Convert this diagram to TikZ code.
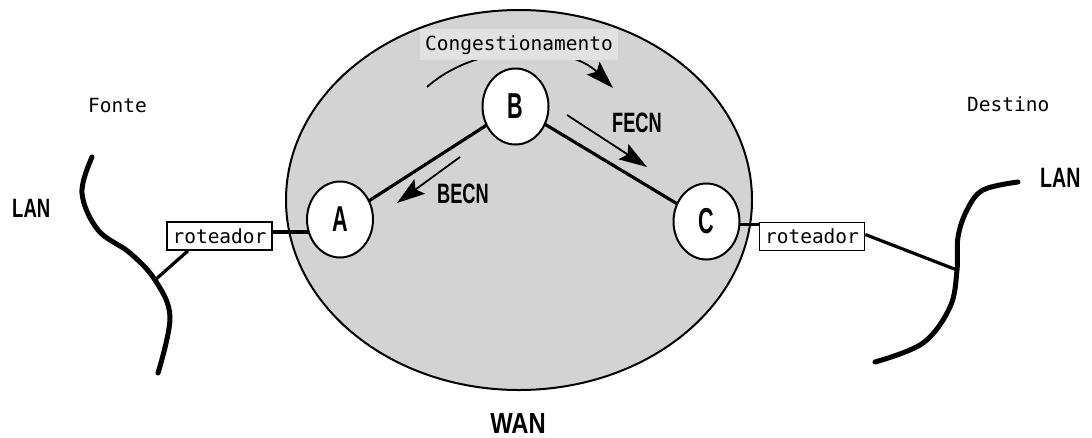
\documentclass[tikz,border=0pt]{standalone}
\usepackage{fontspec}
\setmainfont{Liberation Sans}
\newfontfamily\monofont{DejaVu Sans Mono}
\usetikzlibrary{arrows.meta,shapes.geometric,calc}
\definecolor{wangray}{RGB}{211,211,211}
\definecolor{labelgray}{RGB}{226,226,226}
\newcommand\condtxt[2]{\scalebox{#1}[1]{#2}}
\pgfdeclarelayer{back}
\pgfdeclarelayer{wires}
\pgfsetlayers{back,wires,main}
\begin{document}
\begin{tikzpicture}[x=1pt,y=-1pt,
  router/.style={draw,line width=1.5pt,fill=white,minimum width=105pt,minimum height=28pt,inner sep=0pt,font=\monofont\fontsize{19.5}{19.5}\selectfont},
  switchnode/.style={ellipse,draw,line width=2pt,fill=white,minimum width=66pt,minimum height=76pt,inner sep=0pt,font=\bfseries\fontsize{36}{36}\selectfont},
  monotext/.style={font=\monofont\fontsize{19.5}{19.5}\selectfont,inner sep=0pt},
  bigtext/.style={font=\bfseries\fontsize{28}{28}\selectfont,inner sep=0pt},
  link/.style={line width=3.2pt},
  lanwire/.style={line width=5pt,line cap=round},
  flow/.style={line width=1.8pt,-{Stealth[length=28pt,width=18pt,inset=5pt]}}
]
\useasboundingbox (0,0) rectangle (1092,437);

\begin{pgfonlayer}{back}
\node[ellipse,draw,fill=wangray,line width=2pt,minimum width=466pt,minimum height=380pt,inner sep=0pt] (wan) at (519,200) {};
\end{pgfonlayer}

% switches and routers
\node[switchnode] (A) at (340,219.5) {\condtxt{0.6}{A}};
\node[switchnode] (B) at (515.5,106.5) {\condtxt{0.6}{B}};
\node[switchnode] (C) at (706.5,221.5) {\condtxt{0.6}{C}};
\node[router] (rl) at (219.5,236) {roteador};
\node[router] (rr) at (812,236.5) {roteador};

% LAN junctions
\coordinate (jl) at (155,280);
\coordinate (jr) at (957,270);

\begin{pgfonlayer}{wires}
\draw[link] (A.center) -- (B.center);
\draw[link] (B.center) -- (C.center);
\draw[link] ([yshift=4pt]rl.east) -- ([yshift=4pt]rl.east -| A.center);
\draw[link] ([yshift=-3pt]C.center) -- ([yshift=-3pt]C.center -| rr.west);
\end{pgfonlayer}
\draw[link] ([xshift=-31.5pt]rl.south) -- (jl);
\draw[link] ([yshift=2pt]rr.east) -- (jr);

% LAN cables
\draw[lanwire] plot[smooth,tension=0.6] coordinates {(92,157) (82,193) (98,230) (130,253) (155,280) (170,317) (158,373)};
\draw[lanwire] plot[smooth,tension=0.6] coordinates {(1018,182) (983,190) (967,210) (958,237) (957,270) (950,307) (923,343) (875,362)};

% congestion notification arrows
\coordinate (cg0) at (427,87);
\coordinate (cg1) at (613,88);
\draw[flow] (cg0) .. controls (480,40) and (570,45) .. (cg1);
\coordinate (fe0) at (567,115);
\coordinate (fe1) at (647,167);
\draw[flow] (fe0) -- (fe1);
\coordinate (be0) at (460,157);
\coordinate (be1) at (397,203);
\draw[flow] (be0) -- (be1);

% labels
\node[monotext,fill=labelgray,inner xsep=5pt,inner ysep=6pt,anchor=base] (cong) at (519,50) {Congestionamento};
\node[bigtext,anchor=base west] (becn) at (437,203) {\condtxt{0.65}{BECN}};
\node[bigtext,anchor=base west] (fecn) at (612,132) {\condtxt{0.65}{FECN}};
\node[font=\bfseries\fontsize{26.5}{26.5}\selectfont,inner sep=0pt,anchor=base west] (lanl) at (12,217) {\condtxt{0.7}{LAN}};
\node[bigtext,anchor=base west] (lanr) at (1040,187) {\condtxt{0.7}{LAN}};
\node[font=\bfseries\fontsize{29}{29}\selectfont,inner sep=0pt,anchor=base] (wanlbl) at (518,433) {\condtxt{0.82}{WAN}};
\node[monotext,anchor=base west] (fonte) at (88,112) {Fonte};
\node[monotext,anchor=base west] (destino) at (967,111) {Destino};
\end{tikzpicture}
\end{document}
